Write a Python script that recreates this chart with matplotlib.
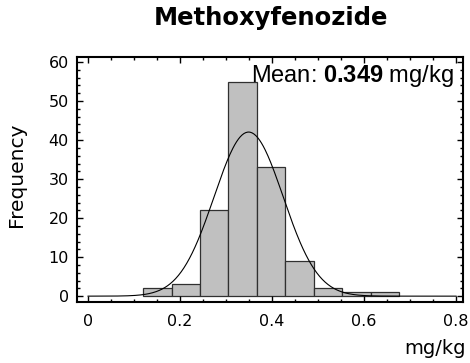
import numpy as np
import matplotlib
matplotlib.use('Agg')
import matplotlib.pyplot as plt
from matplotlib.ticker import MultipleLocator

# Histogram data
bin_edges = [0.120, 0.182, 0.243, 0.305, 0.367, 0.429, 0.491, 0.552, 0.614, 0.676]
counts = [2, 3, 22, 55, 33, 9, 2, 1, 1]
mean_val = 0.349
sd_val = 0.075
x_ticks = [0, 0.2, 0.4, 0.6, 0.8]
x_tick_labels = ['0', '0.2', '0.4', '0.6', '0.8']
y_ticks = [0, 10, 20, 30, 40, 50, 60]

plt.rcParams['mathtext.fontset'] = 'custom'
plt.rcParams['mathtext.rm'] = 'Liberation Sans'
plt.rcParams['mathtext.bf'] = 'Liberation Sans:bold'

fig = plt.figure(figsize=(4.7, 3.63), dpi=100)
ax = fig.add_axes([77 / 470, 1 - 302 / 363, 386 / 470, 245 / 363])

lefts = bin_edges[:-1]
widths = np.diff(bin_edges)
ax.bar(lefts, counts, width=widths, align='edge', color='#c0c0c0',
       edgecolor='#303030', linewidth=0.9)

# courbe normale ajustée
n = sum(counts)
bw = np.mean(widths)
xs = np.linspace(0, 0.8, 400)
ys = n * bw / (sd_val * np.sqrt(2 * np.pi)) * np.exp(-0.5 * ((xs - mean_val) / sd_val) ** 2)
ax.plot(xs, ys, color='black', linewidth=0.8)

ax.set_xlim(-0.024, 0.815)
ax.set_ylim(-1.5, 61.3)
ax.set_xticks(x_ticks)
ax.set_xticklabels(x_tick_labels)
ax.set_yticks(y_ticks)
ax.xaxis.set_minor_locator(MultipleLocator(0.05))
ax.yaxis.set_minor_locator(MultipleLocator(2))
ax.tick_params(which='both', direction='in', top=True, right=True,
               labelsize=11.5, colors='black')
ax.tick_params(axis='x', pad=9)
ax.tick_params(axis='y', pad=6)
ax.tick_params(which='major', length=4, width=1)
ax.tick_params(which='minor', length=2.5, width=1)
for sp in ax.spines.values():
    sp.set_linewidth(1.5)

ax.text(0.975, 0.975, r'Mean: $\mathbf{0.349}$ mg/kg', transform=ax.transAxes,
        ha='right', va='top', fontsize=17, family='Liberation Sans')

fig.text(271 / 470, 1 - 18 / 363, 'Methoxyfenozide', ha='center', va='center',
         fontsize=17.5, fontweight='bold')
fig.text(17 / 470, 1 - 175 / 363, 'Frequency', ha='center', va='center',
         rotation=90, fontsize=14.5)
fig.text(466 / 470, 1 - 349 / 363, 'mg/kg', ha='right', va='center',
         fontsize=14)

fig.savefig('out.png', dpi=100)
